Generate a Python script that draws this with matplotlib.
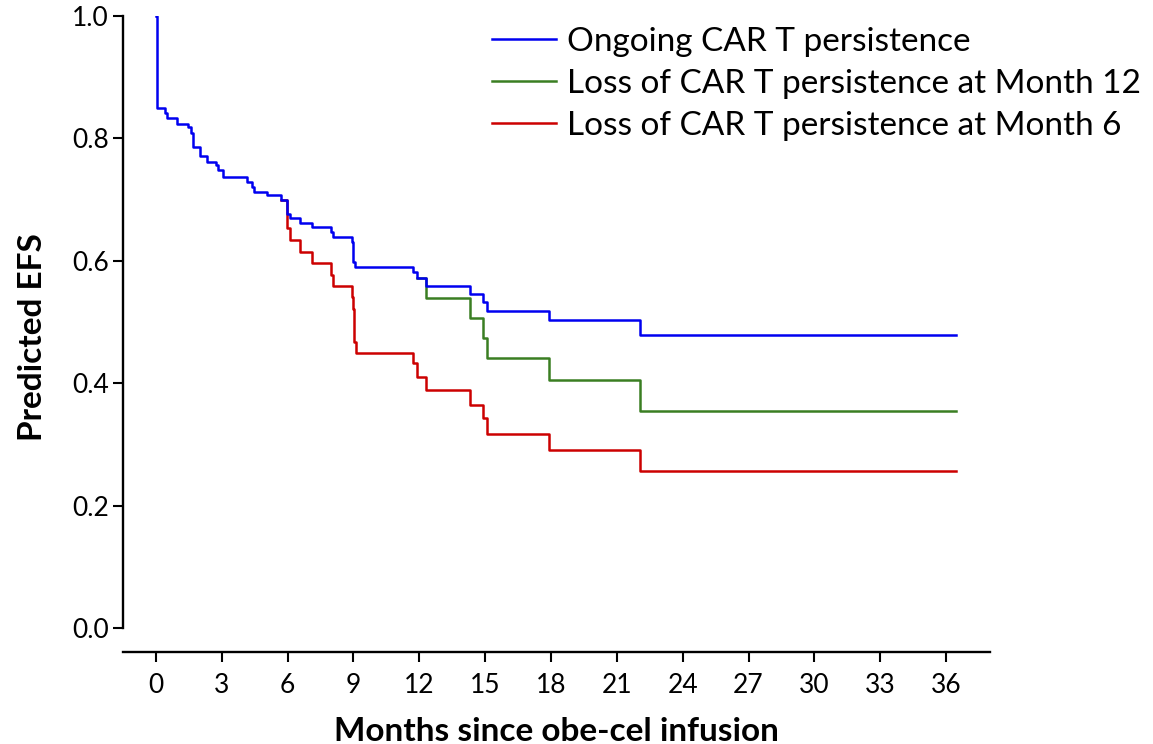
import matplotlib
matplotlib.use("Agg")
import matplotlib.pyplot as plt

# ---- data ----
blue_t = [0.0, 0.03, 0.41, 0.49, 0.94, 1.47, 1.60, 1.70, 2.00, 2.31, 2.73, 2.84, 3.04,
          4.13, 4.36, 4.47, 5.05, 5.70, 5.99, 6.10, 6.56, 7.12, 7.96, 8.05, 8.92, 8.99,
          9.07, 11.70, 11.88, 12.30, 14.31, 14.92, 15.07, 17.93, 22.06, 36.46]
blue_v = [1.000, 0.849, 0.841, 0.833, 0.824, 0.818, 0.809, 0.786, 0.771, 0.762, 0.756, 0.748,
          0.737, 0.729, 0.721, 0.713, 0.707, 0.700, 0.677, 0.670, 0.662, 0.655, 0.647, 0.639,
          0.631, 0.598, 0.590, 0.582, 0.572, 0.559, 0.545, 0.533, 0.518, 0.503, 0.479, 0.479]

green_t = [11.88, 12.30, 14.31, 14.92, 15.07, 17.93, 22.06, 36.46]
green_v = [0.572, 0.540, 0.506, 0.474, 0.442, 0.405, 0.355, 0.355]

red_t = [5.70, 5.99, 6.10, 6.56, 7.12, 7.98, 8.08, 8.92, 8.99, 9.04, 9.10, 11.70, 11.88,
         12.30, 14.31, 14.92, 15.07, 17.93, 22.06, 36.46]
red_v = [0.700, 0.653, 0.634, 0.615, 0.596, 0.577, 0.559, 0.541, 0.522, 0.468, 0.449, 0.433,
         0.411, 0.389, 0.364, 0.343, 0.317, 0.291, 0.257, 0.257]

labels = ["Ongoing CAR T persistence",
          "Loss of CAR T persistence at Month 12",
          "Loss of CAR T persistence at Month 6"]
colors = ["#0000F0", "#3A7E22", "#CC0000"]
x_ticks = list(range(0, 37, 3))
y_ticks = [0.0, 0.2, 0.4, 0.6, 0.8, 1.0]

plt.rcParams['font.family'] = ['Lato', 'DejaVu Sans']

W, H = 1153, 744
fig = plt.figure(figsize=(W / 100, H / 100), dpi=100)
ax_left, ax_right, ax_bottom, ax_top = 123, 990, 651.7, 15.7
ax = fig.add_axes([ax_left / W, 1 - ax_bottom / H, (ax_right - ax_left) / W, (ax_bottom - ax_top) / H])

lw = 1.8
hr, = ax.step(red_t, red_v, where='post', color=colors[2], lw=lw)
hg, = ax.step(green_t, green_v, where='post', color=colors[1], lw=lw)
hb, = ax.step(blue_t, blue_v, where='post', color=colors[0], lw=lw)

ax.set_xlim(-1.5, 38.0)
ax.set_ylim(-0.038, 1.0)
ax.set_xticks(x_ticks)
ax.set_yticks(y_ticks)
ax.set_yticklabels([f"{v:.1f}" for v in y_ticks])
ax.tick_params(axis='both', labelsize=19, length=7, width=1.5, direction='out')
ax.tick_params(axis='x', pad=8)
ax.tick_params(axis='y', pad=3)
for s in ['top', 'right']:
    ax.spines[s].set_visible(False)
for s in ['left', 'bottom']:
    ax.spines[s].set_linewidth(1.7)
ax.spines['left'].set_bounds(0.0, 1.0)

axw = ax_right - ax_left
axh = ax_bottom - ax_top
ax.set_xlabel("Months since obe-cel infusion", fontsize=24, fontweight='bold', va='baseline')
ax.xaxis.set_label_coords(0.5, (ax_bottom - 741) / axh)
ax.set_ylabel("Predicted EFS", fontsize=24, fontweight='bold', va='baseline',
              rotation_mode='anchor')
ax.yaxis.set_label_coords((42 - ax_left) / axw, 0.495)

leg = fig.legend([hb, hg, hr], labels, loc='upper left',
                 bbox_to_anchor=(492 / W, 1 - 27 / H), frameon=False,
                 fontsize=24, handlelength=1.92, handletextpad=0.33, labelspacing=0.36,
                 borderaxespad=0, borderpad=0)

fig.savefig("out.png", dpi=100)
